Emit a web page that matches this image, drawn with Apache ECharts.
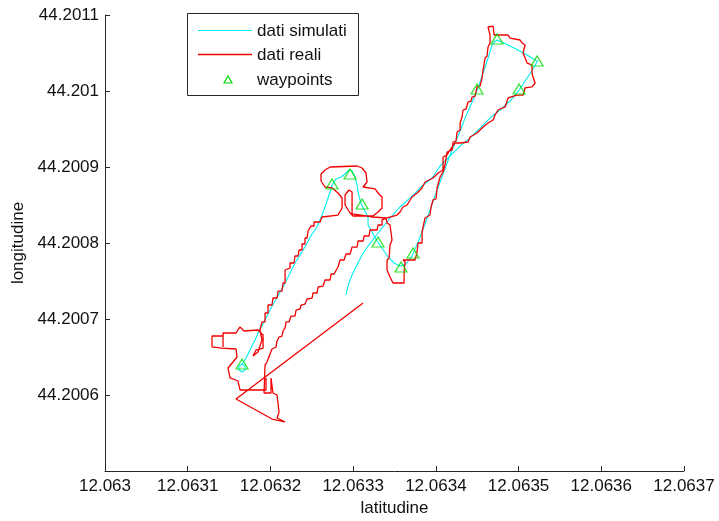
<!DOCTYPE html>
<html>
<head>
<meta charset="utf-8">
<script src="https://cdn.jsdelivr.net/npm/echarts@6/dist/echarts.min.js"></script>
<style>
  html, body { margin: 0; padding: 0; background: #fff; }
  #chart { width: 719px; height: 521px; }
</style>
</head>
<body>
<div id="chart"></div>
<script>
// Axis ticks and their labels (the bottom latitude tick is left unlabelled)
const xTicks = [12.063, 12.0631, 12.0632, 12.0633, 12.0634, 12.0635, 12.0636, 12.0637];
const xTickLabels = ['12.063', '12.0631', '12.0632', '12.0633', '12.0634', '12.0635', '12.0636', '12.0637'];
const yTicks = [44.2005, 44.2006, 44.2007, 44.2008, 44.2009, 44.201, 44.2011];
const yTickLabels = ['', '44.2006', '44.2007', '44.2008', '44.2009', '44.201', '44.2011'];

// Waypoints [latitudine, longitudine]
const waypoints = [
  [12.0631657, 44.2006408], [12.0632745, 44.2008776], [12.0632963, 44.2008908],
  [12.0633108, 44.2008513], [12.0633301, 44.2008013], [12.0633579, 44.2007684],
  [12.0633724, 44.2007868], [12.0634498, 44.2010026], [12.0634740, 44.2010684],
  [12.0635224, 44.2010395], [12.0635006, 44.2010026]
];

// Simulated trajectory
const simulatedTrack = [
  [12.0631657, 44.2006408], [12.0631693, 44.2006382], [12.0631693, 44.2006329], [12.0631657, 44.2006303],
  [12.0631620, 44.2006329], [12.0631620, 44.2006382], [12.0631657, 44.2006408], [12.0631705, 44.2006487],
  [12.0631753, 44.2006592], [12.0631814, 44.2006724], [12.0631862, 44.2006842], [12.0631923, 44.2006961],
  [12.0631995, 44.2007118], [12.0632068, 44.2007263], [12.0632152, 44.2007421], [12.0632237, 44.2007605],
  [12.0632297, 44.2007737], [12.0632358, 44.2007842], [12.0632430, 44.2007974], [12.0632503, 44.2008118],
  [12.0632564, 44.2008211], [12.0632624, 44.2008368], [12.0632672, 44.2008513], [12.0632721, 44.2008671],
  [12.0632745, 44.2008763], [12.0632793, 44.2008842], [12.0632854, 44.2008868], [12.0632902, 44.2008908],
  [12.0632950, 44.2008961], [12.0632987, 44.2008947], [12.0633023, 44.2008868], [12.0633047, 44.2008763],
  [12.0633059, 44.2008671], [12.0633083, 44.2008566], [12.0633108, 44.2008487], [12.0633156, 44.2008395],
  [12.0633180, 44.2008329], [12.0633180, 44.2008237], [12.0633229, 44.2008145], [12.0633289, 44.2008026],
  [12.0633349, 44.2007934], [12.0633422, 44.2007816], [12.0633495, 44.2007737], [12.0633567, 44.2007697],
  [12.0633640, 44.2007724], [12.0633712, 44.2007829], [12.0633785, 44.2008013], [12.0633869, 44.2008250],
  [12.0633942, 44.2008474], [12.0634015, 44.2008697], [12.0634087, 44.2008908], [12.0634172, 44.2009158],
  [12.0634268, 44.2009408], [12.0634353, 44.2009645], [12.0634438, 44.2009855], [12.0634510, 44.2010040],
  [12.0634583, 44.2010276], [12.0634643, 44.2010474], [12.0634680, 44.2010605], [12.0634704, 44.2010645],
  [12.0634740, 44.2010671], [12.0634873, 44.2010605], [12.0634994, 44.2010540], [12.0635103, 44.2010474],
  [12.0635224, 44.2010395], [12.0635200, 44.2010329], [12.0635103, 44.2010171], [12.0635006, 44.2010013],
  [12.0634897, 44.2009868], [12.0634776, 44.2009750], [12.0634655, 44.2009645], [12.0634535, 44.2009513],
  [12.0634414, 44.2009382], [12.0634293, 44.2009276], [12.0634172, 44.2009145], [12.0634051, 44.2009013],
  [12.0633954, 44.2008855], [12.0633833, 44.2008750], [12.0633712, 44.2008618], [12.0633567, 44.2008474],
  [12.0633446, 44.2008329], [12.0633349, 44.2008197], [12.0633265, 44.2008079], [12.0633180, 44.2007961],
  [12.0633108, 44.2007842], [12.0633047, 44.2007711], [12.0632987, 44.2007579], [12.0632950, 44.2007474],
  [12.0632926, 44.2007382], [12.0632914, 44.2007316]
];

// Recorded GPS trajectory
const realTrack = [
  [12.0631947, 44.2006224], [12.0631947, 44.2006066], [12.0631632, 44.2006066], [12.0631608, 44.2006184],
  [12.0631512, 44.2006224], [12.0631487, 44.2006355], [12.0631548, 44.2006434], [12.0631596, 44.2006500],
  [12.0631584, 44.2006605], [12.0631415, 44.2006618], [12.0631294, 44.2006632], [12.0631294, 44.2006776],
  [12.0631427, 44.2006776], [12.0631427, 44.2006632], [12.0631427, 44.2006816], [12.0631584, 44.2006816],
  [12.0631632, 44.2006895], [12.0631681, 44.2006842], [12.0631850, 44.2006855], [12.0631911, 44.2006789],
  [12.0631911, 44.2006618], [12.0631826, 44.2006592], [12.0631790, 44.2006513], [12.0631850, 44.2006566],
  [12.0631898, 44.2006724], [12.0631874, 44.2006855], [12.0631898, 44.2006961], [12.0631935, 44.2006961],
  [12.0631935, 44.2007079], [12.0631971, 44.2007079], [12.0631971, 44.2007184], [12.0632019, 44.2007184],
  [12.0632031, 44.2007276], [12.0632080, 44.2007276], [12.0632092, 44.2007368], [12.0632140, 44.2007368],
  [12.0632152, 44.2007474], [12.0632177, 44.2007474], [12.0632177, 44.2007645], [12.0632237, 44.2007671],
  [12.0632237, 44.2007737], [12.0632285, 44.2007737], [12.0632297, 44.2007829], [12.0632334, 44.2007829],
  [12.0632346, 44.2007908], [12.0632382, 44.2007908], [12.0632382, 44.2007987], [12.0632418, 44.2007987],
  [12.0632418, 44.2008066], [12.0632443, 44.2008066], [12.0632455, 44.2008158], [12.0632479, 44.2008158],
  [12.0632491, 44.2008224], [12.0632527, 44.2008224], [12.0632527, 44.2008276], [12.0632600, 44.2008276],
  [12.0632624, 44.2008342], [12.0632817, 44.2008368], [12.0632866, 44.2008461], [12.0632866, 44.2008592],
  [12.0632817, 44.2008658], [12.0632745, 44.2008724], [12.0632660, 44.2008737], [12.0632612, 44.2008816],
  [12.0632612, 44.2008908], [12.0632660, 44.2008961], [12.0632721, 44.2009000], [12.0633047, 44.2009013],
  [12.0633108, 44.2008987], [12.0633156, 44.2008921], [12.0633168, 44.2008803], [12.0633120, 44.2008737],
  [12.0633096, 44.2008711], [12.0633265, 44.2008711], [12.0633301, 44.2008658], [12.0633349, 44.2008605],
  [12.0633349, 44.2008461], [12.0633301, 44.2008408], [12.0633241, 44.2008355], [12.0632999, 44.2008355],
  [12.0632963, 44.2008395], [12.0632902, 44.2008500], [12.0632902, 44.2008632], [12.0632950, 44.2008697],
  [12.0632987, 44.2008671], [12.0632987, 44.2008382], [12.0633241, 44.2008342], [12.0633398, 44.2008329],
  [12.0633410, 44.2008263], [12.0633446, 44.2008237], [12.0633470, 44.2008039], [12.0633446, 44.2007974],
  [12.0633434, 44.2007803], [12.0633410, 44.2007776], [12.0633410, 44.2007645], [12.0633446, 44.2007553],
  [12.0633482, 44.2007474], [12.0633616, 44.2007474], [12.0633616, 44.2007618], [12.0633628, 44.2007750],
  [12.0633603, 44.2007776], [12.0633749, 44.2007776], [12.0633773, 44.2007882], [12.0633785, 44.2008000],
  [12.0633833, 44.2008000], [12.0633833, 44.2008145], [12.0633857, 44.2008145], [12.0633869, 44.2008329],
  [12.0633930, 44.2008368], [12.0633942, 44.2008474], [12.0633966, 44.2008487], [12.0633966, 44.2008566],
  [12.0634002, 44.2008579], [12.0634015, 44.2008724], [12.0634039, 44.2008724], [12.0634051, 44.2008868],
  [12.0634087, 44.2008934], [12.0634111, 44.2009026], [12.0634135, 44.2009040], [12.0634135, 44.2009197],
  [12.0634196, 44.2009224], [12.0634208, 44.2009329], [12.0634244, 44.2009342], [12.0634256, 44.2009461],
  [12.0634293, 44.2009487], [12.0634293, 44.2009579], [12.0634317, 44.2009658], [12.0634329, 44.2009750],
  [12.0634365, 44.2009763], [12.0634389, 44.2009855], [12.0634426, 44.2009868], [12.0634438, 44.2009921],
  [12.0634474, 44.2009934], [12.0634498, 44.2010053], [12.0634535, 44.2010066], [12.0634559, 44.2010171],
  [12.0634571, 44.2010276], [12.0634595, 44.2010290], [12.0634595, 44.2010434], [12.0634619, 44.2010461],
  [12.0634631, 44.2010579], [12.0634655, 44.2010632], [12.0634655, 44.2010737], [12.0634631, 44.2010763],
  [12.0634631, 44.2010842], [12.0634692, 44.2010855], [12.0634704, 44.2010737], [12.0634873, 44.2010737],
  [12.0634897, 44.2010697], [12.0635018, 44.2010671], [12.0635042, 44.2010632], [12.0635079, 44.2010605],
  [12.0635054, 44.2010500], [12.0635079, 44.2010434], [12.0635103, 44.2010368], [12.0635163, 44.2010342],
  [12.0635163, 44.2010237], [12.0635175, 44.2010184], [12.0635200, 44.2010105], [12.0635163, 44.2010053],
  [12.0635079, 44.2010040], [12.0635054, 44.2009947], [12.0634982, 44.2009947], [12.0634873, 44.2009908],
  [12.0634837, 44.2009790], [12.0634752, 44.2009750], [12.0634716, 44.2009684], [12.0634692, 44.2009618],
  [12.0634631, 44.2009579], [12.0634559, 44.2009513], [12.0634498, 44.2009447], [12.0634414, 44.2009395],
  [12.0634389, 44.2009329], [12.0634293, 44.2009316], [12.0634232, 44.2009316], [12.0634172, 44.2009224],
  [12.0634135, 44.2009158], [12.0634087, 44.2009132], [12.0634087, 44.2008961], [12.0634027, 44.2008921],
  [12.0633966, 44.2008855], [12.0633869, 44.2008803], [12.0633833, 44.2008724], [12.0633773, 44.2008658],
  [12.0633712, 44.2008605], [12.0633652, 44.2008500], [12.0633603, 44.2008474], [12.0633567, 44.2008408],
  [12.0633531, 44.2008368], [12.0633410, 44.2008329], [12.0633349, 44.2008303], [12.0633349, 44.2008237],
  [12.0633301, 44.2008237], [12.0633289, 44.2008171], [12.0633204, 44.2008171], [12.0633192, 44.2008092],
  [12.0633132, 44.2008092], [12.0633120, 44.2008026], [12.0633059, 44.2008026], [12.0633047, 44.2007947],
  [12.0632987, 44.2007947], [12.0632963, 44.2007855], [12.0632914, 44.2007855], [12.0632890, 44.2007776],
  [12.0632842, 44.2007776], [12.0632817, 44.2007684], [12.0632793, 44.2007684], [12.0632769, 44.2007592],
  [12.0632733, 44.2007592], [12.0632721, 44.2007513], [12.0632660, 44.2007513], [12.0632636, 44.2007434],
  [12.0632576, 44.2007421], [12.0632564, 44.2007342], [12.0632515, 44.2007342], [12.0632503, 44.2007276],
  [12.0632443, 44.2007263], [12.0632418, 44.2007197], [12.0632370, 44.2007184], [12.0632358, 44.2007132],
  [12.0632310, 44.2007118], [12.0632297, 44.2007039], [12.0632249, 44.2007039], [12.0632225, 44.2006961],
  [12.0632189, 44.2006961], [12.0632177, 44.2006882], [12.0632152, 44.2006842], [12.0632140, 44.2006776],
  [12.0632104, 44.2006763], [12.0632080, 44.2006711], [12.0632068, 44.2006632], [12.0632019, 44.2006605],
  [12.0631995, 44.2006539], [12.0631971, 44.2006513], [12.0631959, 44.2006434], [12.0631935, 44.2006395],
  [12.0631923, 44.2006026], [12.0632007, 44.2006026], [12.0632007, 44.2006224], [12.0632031, 44.2006224],
  [12.0632031, 44.2006026], [12.0632080, 44.2006000], [12.0632104, 44.2005776], [12.0632080, 44.2005697],
  [12.0632177, 44.2005645], [12.0632019, 44.2005684], [12.0631584, 44.2005947], [12.0633120, 44.2007211]
];

const seriesNames = ['dati simulati', 'dati reali', 'waypoints'];
const colors = { sim: '#00eef2', real: '#f00000', wp: '#00dd00', axis: '#262626', text: '#111' };
const FONT = "'Liberation Sans', Arial, sans-serif";
const STEP = 0.0001;

function tickLabel(ticks, labels, v) {
  const i = Math.round((v - ticks[0]) / STEP);
  return labels[i] !== undefined ? labels[i] : '';
}

const chart = echarts.init(document.getElementById('chart'), null, { renderer: 'canvas' });

const axisCommon = {
  type: 'value',
  interval: STEP,
  axisLine: { show: true, lineStyle: { color: colors.axis, width: 1 } },
  axisTick: { show: true, inside: true, length: 5, lineStyle: { color: colors.axis } },
  splitLine: { show: false },
  nameLocation: 'middle',
  nameTextStyle: { fontSize: 17, fontFamily: FONT, color: colors.text },
};

chart.setOption({
  animation: false,
  backgroundColor: '#ffffff',
  grid: { left: 105, right: 35, top: 15, bottom: 50, containLabel: false, outerBoundsMode: 'none' },
  xAxis: Object.assign({}, axisCommon, {
    min: xTicks[0], max: xTicks[xTicks.length - 1],
    name: 'latitudine', nameGap: 28,
    axisLabel: {
      margin: 7, fontSize: 17, fontFamily: FONT, color: colors.text,
      formatter: v => tickLabel(xTicks, xTickLabels, v)
    }
  }),
  yAxis: Object.assign({}, axisCommon, {
    min: yTicks[0], max: yTicks[yTicks.length - 1],
    name: 'longitudine', nameGap: 73,
    axisLabel: {
      margin: 6, fontSize: 17, fontFamily: FONT, color: colors.text,
      formatter: v => tickLabel(yTicks, yTickLabels, v)
    }
  }),
  series: [
    {
      name: seriesNames[0], type: 'line', data: simulatedTrack,
      showSymbol: false, symbol: 'none', silent: true, z: 2,
      lineStyle: { color: colors.sim, width: 1.1 }
    },
    {
      name: seriesNames[1], type: 'line', data: realTrack,
      showSymbol: false, symbol: 'none', silent: true, z: 3,
      lineStyle: { color: colors.real, width: 1.3 }
    },
    {
      name: seriesNames[2], type: 'scatter', data: waypoints,
      symbol: 'triangle', symbolSize: [12, 10], silent: true, z: 4,
      itemStyle: { color: 'rgba(0,0,0,0)', borderColor: colors.wp, borderWidth: 1.2 }
    }
  ],
  graphic: [
    { type: 'rect', z: 100, shape: { x: 187.5, y: 13.5, width: 171, height: 82 },
      style: { fill: '#fff', stroke: colors.axis, lineWidth: 1 } },
    { type: 'line', z: 101, shape: { x1: 198, y1: 30.5, x2: 252, y2: 30.5 },
      style: { stroke: colors.sim, lineWidth: 1.1 } },
    { type: 'line', z: 101, shape: { x1: 198, y1: 54.5, x2: 252, y2: 54.5 },
      style: { stroke: colors.real, lineWidth: 1.3 } },
    { type: 'polygon', z: 101, shape: { points: [[228, 76], [224, 83], [232, 83]] },
      style: { fill: 'none', stroke: colors.wp, lineWidth: 1.2 } },
    { type: 'text', z: 101, x: 257, y: 31,
      style: { text: seriesNames[0], fontSize: 17, fontFamily: FONT, fill: colors.text,
               align: 'left', verticalAlign: 'middle', textAlign: 'left', textVerticalAlign: 'middle' } },
    { type: 'text', z: 101, x: 257, y: 55,
      style: { text: seriesNames[1], fontSize: 17, fontFamily: FONT, fill: colors.text,
               align: 'left', verticalAlign: 'middle', textAlign: 'left', textVerticalAlign: 'middle' } },
    { type: 'text', z: 101, x: 257, y: 80,
      style: { text: seriesNames[2], fontSize: 17, fontFamily: FONT, fill: colors.text,
               align: 'left', verticalAlign: 'middle', textAlign: 'left', textVerticalAlign: 'middle' } }
  ]
});
</script>
</body>
</html>
